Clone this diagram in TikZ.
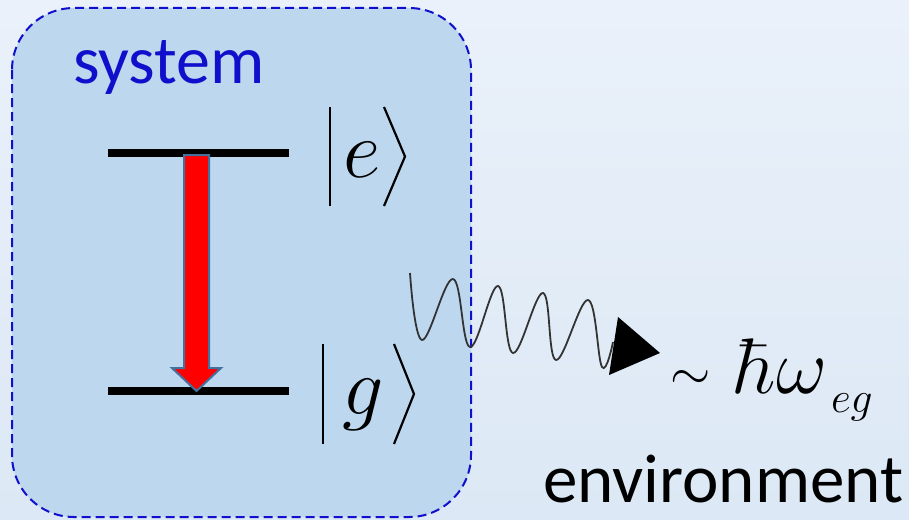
\documentclass[tikz,border=0pt]{standalone}
\usepackage{fontspec}
\newfontfamily\calibrifont{Carlito}
\definecolor{bgtop}{HTML}{EAF1FA}
\definecolor{bgbot}{HTML}{DCE8F5}
\definecolor{sysfill}{HTML}{BDD7EE}
\definecolor{sysblue}{HTML}{1010CC}
\definecolor{arrowedge}{HTML}{41719C}
\definecolor{wavegray}{HTML}{333333}
\tikzset{
  level/.style={line width=8pt, black},
  ketbar/.style={line width=2.2pt, black},
  labeltxt/.style={inner sep=0pt, outer sep=0pt},
  mathtxt/.style={labeltxt, font=\fontsize{20.74}{20.74}\selectfont},
}
\begin{document}
\begin{tikzpicture}[x=1pt,y=-1pt]
\useasboundingbox (0,0) rectangle (909,519);
\shade[top color=bgtop, bottom color=bgbot] (0,0) rectangle (909,519);
% system box
\draw[sysblue, line width=2pt, dash pattern=on 9pt off 5pt, fill=sysfill, rounded corners=62pt]
  (12,8) rectangle (471,517);
\node[labeltxt, anchor=base west, text=sysblue, font=\calibrifont\fontsize{68}{68}\selectfont] (sys) at (73,83) {system};
% levels
\coordinate (e1) at (108,153); \coordinate (e2) at (289,153);
\coordinate (g1) at (108,391); \coordinate (g2) at (289,391);
\draw[level] (e1) -- (e2);
\draw[level] (g1) -- (g2);
% red arrow
\draw[arrowedge, line width=2pt, fill=red, line join=miter]
  (184,155) -- (209,155) -- (209,368) -- (221,368) -- (196.5,391) -- (172,368) -- (184,368) -- cycle;
% |e>
\draw[ketbar] (330,107) -- (330,206);
\node[mathtxt, anchor=base west, scale=3.95] (ke) at (343,177) {$e$};
\draw[ketbar] (384,107) -- (405,156.5) -- (384,206);
% |g>
\draw[ketbar] (323,344) -- (323,444);
\node[mathtxt, anchor=base west, scale=3.95] (kg) at (342,414) {$g$};
\draw[ketbar] (394,344) -- (414,394) -- (394,444);
% wave
\coordinate (wstart) at (410,273);
\coordinate (wend) at (613,342);
\draw[wavegray, line width=1.8pt] plot[smooth, tension=0.65] coordinates {
  (wstart) (422,340) (453,279) (470,347) (498,286) (513,353) (543,293) (556,360) (588,300) (602,367) (wend)};
\fill[black] (618,317) -- (660,353) -- (609,375) -- cycle;
% energy label
\node[mathtxt, anchor=base west, scale=2.5] (tl) at (670,389) {$\sim$};
\node[mathtxt, anchor=base west, scale=3.8] (hw) at (735,393) {$\hbar\omega$};
\node[mathtxt, anchor=base west, scale=2.1] (eg) at (831,412) {$eg$};
% environment
\node[labeltxt, anchor=base west, font=\calibrifont\fontsize{69}{69}\selectfont] (env) at (543,502) {environment};
\end{tikzpicture}
\end{document}
